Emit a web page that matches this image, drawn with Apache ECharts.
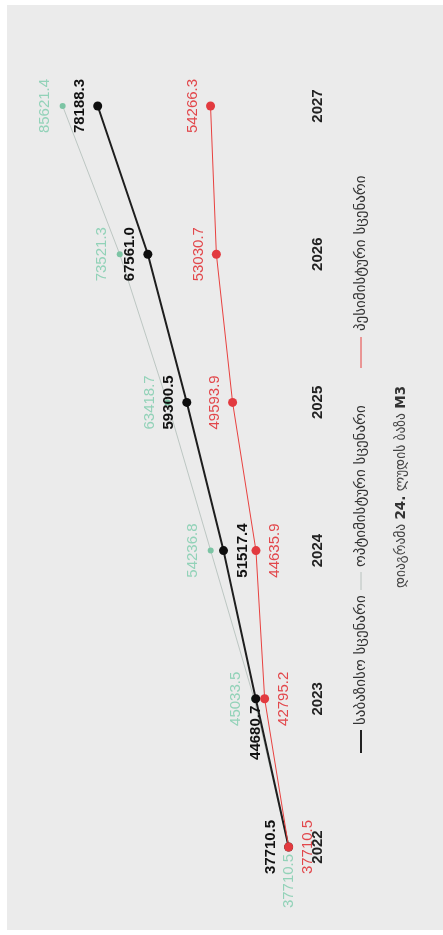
<!DOCTYPE html>
<html>
<head>
<meta charset="utf-8">
<script src="https://cdn.jsdelivr.net/npm/echarts@6/dist/echarts.min.js"></script>
<style>
html,body{margin:0;padding:0;background:#fff;}
#chart{width:443px;height:935px;}
</style>
</head>
<body>
<div id="chart"></div>
<script>
const years = ['2022', '2023', '2024', '2025', '2026', '2027'];
const baseline = [37710.5, 44680.7, 51517.4, 59300.5, 67561.0, 78188.3];
const optimistic = [37710.5, 45033.5, 54236.8, 63418.7, 73521.3, 85621.4];
const pessimistic = [37710.5, 42795.2, 44635.9, 49593.9, 53030.7, 54266.3];
const seriesNames = ['საბაზისო სცენარი', 'ოპტიმისტური სცენარი', 'პესიმისტური სცენარი'];
const captionParts = ['დიაგრამა ', '24.', ' ლუდის ბაზა ', 'M3'];

// label placement per point (layout only): L = left of point, R = right, B = below
const placeBase = ['L', 'B', 'R', 'L', 'L', 'L'];
const placeOpt  = ['B', 'L', 'L', 'L', 'L', 'L'];
const placePes  = ['R', 'R', 'R', 'L', 'L', 'L'];

const OFFS = { L: [-18, 0], R: [19, 0], B: [0, 34] };

function buildData(values, places, size) {
  return values.map((v, i) => {
    const o = OFFS[places[i]];
    return { value: v, label: { position: [o[0] + size / 2, o[1] + size / 2] } };
  });
}

const chart = echarts.init(document.getElementById('chart'), null, { renderer: 'canvas' });

const labelBase = {
  show: true,
  rotate: 90,
  align: 'center',
  verticalAlign: 'middle',
  fontSize: 15,
  fontFamily: 'Liberation Sans, Arial, sans-serif',
  formatter: p => p.value.toFixed(1)
};

const georgianFont = 'DejaVu Sans, Noto Sans, sans-serif';
const legendTextStyle = { fill: '#333', fontSize: 15, fontFamily: georgianFont, verticalAlign: 'middle', align: 'left' };

const option = {
  backgroundColor: '#ffffff',
  animation: false,
  grid: { left: 42, right: 118, top: 106, bottom: 88 },
  xAxis: {
    type: 'value',
    min: 30000,
    max: 90000,
    inverse: true,
    show: false
  },
  yAxis: {
    type: 'category',
    data: years,
    boundaryGap: false,
    position: 'right',
    axisLine: { show: false },
    axisTick: { show: false },
    splitLine: { show: false },
    axisLabel: {
      rotate: 90,
      margin: -15,
      fontSize: 15,
      fontWeight: 'bold',
      color: '#222',
      fontFamily: 'Liberation Sans, Arial, sans-serif'
    }
  },
  graphic: [
    {
      type: 'rect', z: -10, silent: true,
      shape: { x: 7, y: 5, width: 436, height: 925 },
      style: { fill: '#ebebeb' }
    },
    {
      type: 'group', x: 361, y: 753, rotation: Math.PI / 2,
      children: [
        { type: 'line', shape: { x1: 0, y1: 0, x2: 23, y2: 0 }, style: { stroke: '#222', lineWidth: 2 } },
        { type: 'text', x: 28, y: 0, style: Object.assign({ text: seriesNames[0] }, legendTextStyle) },
        { type: 'line', shape: { x1: 163, y1: 0, x2: 181, y2: 0 }, style: { stroke: '#b8c2be', lineWidth: 1 } },
        { type: 'text', x: 186, y: 0, style: Object.assign({ text: seriesNames[1] }, legendTextStyle) },
        { type: 'line', shape: { x1: 385, y1: 0, x2: 416, y2: 0 }, style: { stroke: '#e8413f', lineWidth: 1 } },
        { type: 'text', x: 422, y: 0, style: Object.assign({ text: seriesNames[2] }, legendTextStyle) }
      ]
    },
    {
      type: 'text', x: 401, y: 487, rotation: Math.PI / 2,
      style: {
        text: '{a|' + captionParts[0] + '}{b|' + captionParts[1] + '}{a|' + captionParts[2] + '}{b|' + captionParts[3] + '}',
        align: 'center', verticalAlign: 'middle',
        rich: {
          a: { fontSize: 13.5, fill: '#444', fontFamily: georgianFont },
          b: { fontSize: 13.5, fill: '#333', fontWeight: 'bold', fontFamily: georgianFont }
        }
      }
    }
  ],
  series: [
    {
      name: seriesNames[1],
      type: 'line',
      data: buildData(optimistic, placeOpt, 6),
      symbol: 'circle',
      symbolSize: 6,
      lineStyle: { color: '#bcc6c2', width: 1 },
      itemStyle: { color: '#7cc4a4' },
      label: Object.assign({}, labelBase, { color: '#92d2b8' }),
      z: 2
    },
    {
      name: seriesNames[0],
      type: 'line',
      data: buildData(baseline, placeBase, 9),
      symbol: 'circle',
      symbolSize: 9,
      lineStyle: { color: '#1e1e1e', width: 2 },
      itemStyle: { color: '#0e0e0e' },
      label: Object.assign({}, labelBase, { color: '#111', fontWeight: 'bold' }),
      z: 3
    },
    {
      name: seriesNames[2],
      type: 'line',
      data: buildData(pessimistic, placePes, 9),
      symbol: 'circle',
      symbolSize: 9,
      lineStyle: { color: '#e8413f', width: 1 },
      itemStyle: { color: '#e23a3f' },
      label: Object.assign({}, labelBase, { color: '#e2474b' }),
      z: 4
    }
  ]
};

chart.setOption(option);
</script>
</body>
</html>
